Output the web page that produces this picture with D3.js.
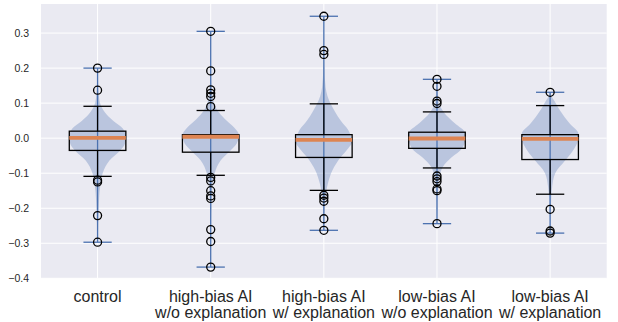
<!DOCTYPE html>
<html>
<head>
<meta charset="utf-8">
<script src="https://cdn.jsdelivr.net/npm/d3@7"></script>
<style>
  body { margin: 0; background: #fff; }
  text { font-family: Arial, "Liberation Sans", sans-serif; fill: #262626; }
</style>
</head>
<body>
<div id="chart"></div>
<script>
// categories and box stats
const categories = ["control", "high-bias AI\nw/o explanation", "high-bias AI\nw/ explanation",
                    "low-bias AI\nw/o explanation", "low-bias AI\nw/ explanation"];
const medians  = [0.001, 0.004, -0.005, -0.001, -0.002];
const q1       = [-0.035, -0.040, -0.055, -0.029, -0.061];
const q3       = [0.020, 0.010, 0.010, 0.017, 0.010];
const whiskLo  = [-0.109, -0.106, -0.149, -0.085, -0.160];
const whiskHi  = [0.091, 0.079, 0.098, 0.075, 0.093];
const dataMin  = [-0.297, -0.368, -0.263, -0.244, -0.271];
const dataMax  = [0.200, 0.305, 0.348, 0.168, 0.131];
const outliers = [
  [0.200, 0.137, -0.120, -0.125, -0.221, -0.297],
  [0.305, 0.192, 0.138, 0.128, 0.119, 0.090, -0.112, -0.122, -0.150, -0.165, -0.172, -0.261, -0.295, -0.368],
  [0.348, 0.250, 0.239, -0.163, -0.171, -0.180, -0.230, -0.263],
  [0.168, 0.148, 0.106, 0.099, -0.108, -0.116, -0.124, -0.145, -0.150, -0.244],
  [0.131, -0.203, -0.265, -0.271]
];
// violin outlines: [value, relative density]
const violins = [
  [[0.2,0.01],[0.15,0.02],[0.127,0.04],[0.1,0.09],[0.075,0.25],[0.05,0.55],[0.027,0.9],[0.005,1.0],[-0.015,0.97],[-0.035,0.8],[-0.064,0.42],[-0.1,0.18],[-0.14,0.09],[-0.2,0.04],[-0.25,0.02],[-0.297,0.01]],
  [[0.305,0.005],[0.2,0.01],[0.15,0.03],[0.12,0.07],[0.1,0.12],[0.079,0.24],[0.055,0.5],[0.031,0.82],[0.008,1.0],[-0.015,0.92],[-0.035,0.7],[-0.064,0.35],[-0.1,0.14],[-0.13,0.07],[-0.18,0.03],[-0.26,0.01],[-0.368,0.005]],
  [[0.348,0.005],[0.25,0.01],[0.2,0.02],[0.146,0.06],[0.12,0.13],[0.098,0.24],[0.075,0.4],[0.05,0.6],[0.025,0.85],[0.0,0.98],[-0.01,1.0],[-0.03,0.85],[-0.054,0.6],[-0.092,0.3],[-0.13,0.14],[-0.158,0.07],[-0.2,0.03],[-0.263,0.01]],
  [[0.168,0.01],[0.13,0.03],[0.103,0.06],[0.074,0.24],[0.041,0.65],[0.017,0.98],[0.0,1.0],[-0.03,0.88],[-0.054,0.53],[-0.083,0.2],[-0.106,0.1],[-0.14,0.05],[-0.19,0.02],[-0.244,0.01]],
  [[0.131,0.01],[0.122,0.04],[0.1,0.2],[0.079,0.35],[0.041,0.7],[0.0125,1.0],[-0.01,0.97],[-0.03,0.85],[-0.064,0.53],[-0.1,0.18],[-0.14,0.07],[-0.168,0.04],[-0.22,0.02],[-0.271,0.01]]
];
const yTicks = [-0.4, -0.3, -0.2, -0.1, 0.0, 0.1, 0.2, 0.3];

const w = 618, h = 322;
const m = {left: 41, right: 11.3, top: 4, bottom: 43.7};
const blue = '#4C72B0', orange = '#DD8452';

const svg = d3.select('#chart').append('svg')
  .attr('width', w).attr('height', h);

const x = d3.scaleLinear().domain([0.5, 5.5]).range([m.left, w - m.right]);
const y = d3.scaleLinear().domain([-0.4, 0.383]).range([h - m.bottom, m.top]);
const unit = x(1) - x(0);
const pos = categories.map((d, i) => i + 1);

svg.append('rect')
  .attr('x', m.left).attr('y', m.top)
  .attr('width', w - m.left - m.right).attr('height', h - m.top - m.bottom)
  .attr('fill', '#EAEAF2');

// grid
svg.append('g').selectAll('line.hg').data(yTicks).enter().append('line')
  .attr('x1', m.left).attr('x2', w - m.right)
  .attr('y1', d => y(d)).attr('y2', d => y(d))
  .attr('stroke', '#fff').attr('stroke-width', 1);
svg.append('g').selectAll('line.vg').data(pos).enter().append('line')
  .attr('x1', d => x(d)).attr('x2', d => x(d))
  .attr('y1', m.top).attr('y2', h - m.bottom)
  .attr('stroke', '#fff').attr('stroke-width', 1);

// y axis labels
const yAxis = d3.axisLeft(y).tickValues(yTicks).tickSize(0).tickPadding(12)
  .tickFormat(d => d3.format('.1f')(d).replace('-', '\u2212'));
svg.append('g').attr('transform', `translate(${m.left},0)`).call(yAxis)
  .call(g => g.select('.domain').remove())
  .selectAll('text').style('font-size', '10.5px').attr('fill', '#262626');

// x labels
const xl = svg.append('g').selectAll('text').data(categories).enter().append('text')
  .attr('x', (d, i) => x(pos[i])).attr('y', 302)
  .attr('text-anchor', 'middle').style('font-size', '16px');
xl.selectAll('tspan').data(d => d.split('\n')).enter().append('tspan')
  .attr('x', function() { return d3.select(this.parentNode).attr('x'); })
  .attr('dy', (d, i) => i ? 15.5 : 0)
  .text(d => d);

// violins
const half = 0.25 * unit;
violins.forEach((prof, i) => {
  const cx = x(pos[i]);
  const area = d3.area()
    .y(d => y(d[0]))
    .x0(d => cx - d[1] * half)
    .x1(d => cx + d[1] * half)
    .curve(d3.curveMonotoneY);
  svg.append('path').datum(prof).attr('d', area)
    .attr('fill', blue).attr('fill-opacity', 0.3);
  const cap = 0.125 * unit;
  svg.append('line').attr('x1', cx).attr('x2', cx)
    .attr('y1', y(dataMin[i])).attr('y2', y(dataMax[i]))
    .attr('stroke', blue).attr('stroke-width', 1.3);
  [dataMin[i], dataMax[i]].forEach(v => svg.append('line')
    .attr('x1', cx - cap).attr('x2', cx + cap)
    .attr('y1', y(v)).attr('y2', y(v))
    .attr('stroke', blue).attr('stroke-width', 1.3));
});

// boxplots
pos.forEach((p, i) => {
  const cx = x(p), bw = 0.25 * unit, cw = 0.125 * unit;
  const g = svg.append('g').attr('stroke', '#000').attr('fill', 'none').attr('stroke-width', 1.3);
  g.append('rect').attr('x', cx - bw).attr('width', 2 * bw)
    .attr('y', y(q3[i])).attr('height', y(q1[i]) - y(q3[i]));
  g.append('line').attr('x1', cx).attr('x2', cx).attr('y1', y(q3[i])).attr('y2', y(whiskHi[i]));
  g.append('line').attr('x1', cx).attr('x2', cx).attr('y1', y(q1[i])).attr('y2', y(whiskLo[i]));
  [whiskLo[i], whiskHi[i]].forEach(v => g.append('line')
    .attr('x1', cx - cw).attr('x2', cx + cw).attr('y1', y(v)).attr('y2', y(v)));
  svg.append('line').attr('x1', cx - bw).attr('x2', cx + bw)
    .attr('y1', y(medians[i])).attr('y2', y(medians[i]))
    .attr('stroke', orange).attr('stroke-width', 3.8);
  g.selectAll('circle').data(outliers[i]).enter().append('circle')
    .attr('cx', cx).attr('cy', d => y(d)).attr('r', 4);
});
</script>
</body>
</html>
